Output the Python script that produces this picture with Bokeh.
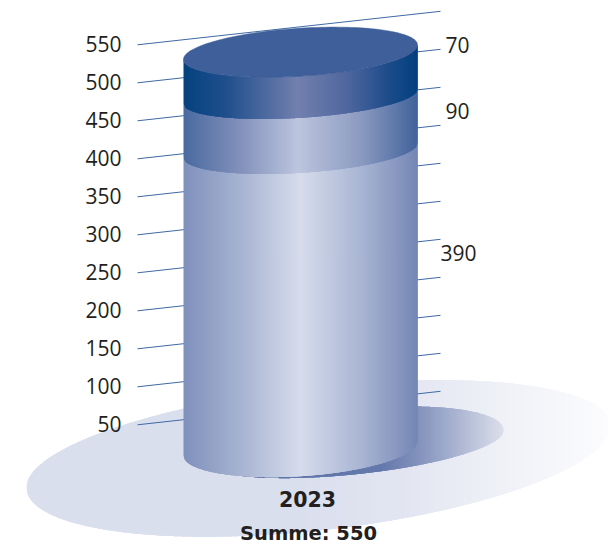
import numpy as np
from bokeh.core.properties import value
from bokeh.embed import file_html
from bokeh.models import Range1d
from bokeh.plotting import figure
from bokeh.resources import INLINE

# ---- data ----
categories = ["2023"]
segment_values = [390, 90, 70]
segment_labels = ["390", "90", "70"]
axis_ticks = [50, 100, 150, 200, 250, 300, 350, 400, 450, 500, 550]

# ---- drawing geometry (pixels of the 608x544 page) ----
PX_PER_UNIT = 0.76          # axis: 38 px per 50 units
Y50 = 424.3                 # page y of the tick 50 at the left line end
W, H = 608, 544


def v_from_px(py):
    return 50 + (Y50 - np.asarray(py, dtype=float)) / PX_PER_UNIT


def rgb(h):
    return [int(h[i:i + 2], 16) for i in (1, 3, 5)]


def ramp(x, stops):
    xs = [s[0] for s in stops]
    cols = np.array([rgb(s[1]) for s in stops], dtype=float)
    c = [np.interp(x, xs, cols[:, k]) for k in range(3)]
    return "#%02x%02x%02x" % tuple(int(round(float(q))) for q in c)


p = figure(width=W, height=H, output_backend="svg", toolbar_location=None,
           x_range=Range1d(0, W),
           y_range=Range1d(float(v_from_px(H)), float(v_from_px(0))),
           min_border=0, outline_line_color=None, background_fill_color="white")
p.axis.visible = False
p.grid.visible = False


def slices(left, right):
    return np.arange(left, right + 1, dtype=float)


def half_height(xs, cx, a):
    return np.sqrt(np.clip(1 - ((xs - cx) / a) ** 2, 0, 1))


def paint(xs, up, lo, stops):
    """Slices overlap the next one by 2 px and are painted left to right,
    so partial pixel coverage at their edges cannot let anything show through."""
    n = len(xs) - 1
    px, py, col = [], [], []
    for i in range(n):
        j = min(i + 3, n)
        px.append(list(xs[i:j + 1]) + list(xs[i:j + 1])[::-1])
        py.append(list(v_from_px(list(up[i:j + 1]) + list(lo[i:j + 1])[::-1])))
        col.append(ramp((xs[i] + xs[i + 1]) / 2, stops))
    p.patches(px, py, fill_color=col, fill_alpha=1.0, line_color=None)


def strips(cx, a, yc, shear, b_up, b_lo, stops):
    """Sheared ellipse painted as vertical slices with a colour ramp."""
    xs = slices(int(np.ceil(cx - a)), min(int(np.floor(cx + a)), W))
    hh = half_height(xs, cx, a)
    up = yc + shear * (xs - cx) - b_up * hh
    lo = yc + shear * (xs - cx) + b_lo * hh
    paint(xs, up, lo, stops)


# floor ellipse and the cylinder's cast shadow
strips(318, 292, 456, -0.106, 70, 74,
       [(26, "#dadfee"), (300, "#dadfee"), (400, "#e2e5f1"), (500, "#eff1f7"), (608, "#fcfcfe")])
strips(353, 150, 445, -0.10, 36, 29,
       [(203, "#5f75a9"), (380, "#6478ab"), (417, "#8191bc"), (503, "#dcdfeb")])

# tick lines, rising to the right behind the cylinder
X0, X1 = 137, 440
RISE = 33.5 / PX_PER_UNIT
p.multi_line([[X0, X1] for _ in axis_ticks],
             [[v, v + RISE] for v in axis_ticks],
             line_color="#3f69a5", line_width=1)

# cylinder
CX, CA = 300, 117
BASE_LEFT = 455
TILT = -14.5 / 234
band_scale = [1.005, 0.79, 0.83]      # the reference shortens the upper bands
level_b = [28, 22.5, 21.5, 24]
band_stops = [
    [(183, "#7f90bb"), (240, "#a7b3d2"), (300, "#d6dcec"), (360, "#a9b5d3"), (417, "#7486b4")],
    [(183, "#4a6a9f"), (240, "#8290bb"), (297, "#bcc5de"), (360, "#8c9ac1"), (417, "#41639b")],
    [(183, "#05427f"), (225, "#1f4f8c"), (297, "#7280ae"), (345, "#51689f"), (390, "#1b4b89"), (417, "#03407f")],
]

heights = [v * PX_PER_UNIT * s for v, s in zip(segment_values, band_scale)]
left_y = BASE_LEFT - np.concatenate([[0], np.cumsum(heights)])
level_y = left_y + TILT * CA          # level centres at the cylinder's axis

xs = slices(CX - CA, CX + CA)
hh = half_height(xs, CX, CA)
for k, stops in enumerate(band_stops):
    lo = level_y[k] + TILT * (xs - CX) + level_b[k] * hh
    up = level_y[k + 1] + TILT * (xs - CX) + level_b[k + 1] * hh
    paint(xs, up, lo, stops)

# top cap
tt = np.linspace(0, 2 * np.pi, 160)
cap_x = CX + CA * np.sin(tt)
cap_y = level_y[-1] + TILT * (cap_x - CX) + level_b[-1] * np.cos(tt)
p.patch(cap_x, v_from_px(cap_y), fill_color="#3e5f99", fill_alpha=1.0,
        line_color="#3e5f99", line_width=0.5)

# texts
FONT = value("Open Sans")
BOLD = value("DejaVu Sans")
p.text([121] * len(axis_ticks), axis_ticks, text=[str(v) for v in axis_ticks],
       text_align="right", text_baseline="middle", text_font=FONT,
       text_font_size="21px", text_color="#231f20",
       y_offset=[-1] * len(axis_ticks))
p.text([445, 445, 440],
       v_from_px([44, 110, 252]),
       text=[segment_labels[2], segment_labels[1], segment_labels[0]],
       text_align="left", text_baseline="middle", text_font=FONT,
       text_font_size="21px", text_color="#231f20")
p.text([307], v_from_px([498]), text=categories, text_align="center",
       text_baseline="middle", text_font=BOLD, text_font_style="bold",
       text_font_size="20.5px", text_color="#231f20")
p.text([308], v_from_px([532.5]), text=["Summe: %d" % sum(segment_values)],
       text_align="center", text_baseline="middle", text_font=BOLD,
       text_font_style="bold", text_font_size="19.5px", text_color="#231f20")

open("out.html", "w").write(file_html(p, INLINE))
